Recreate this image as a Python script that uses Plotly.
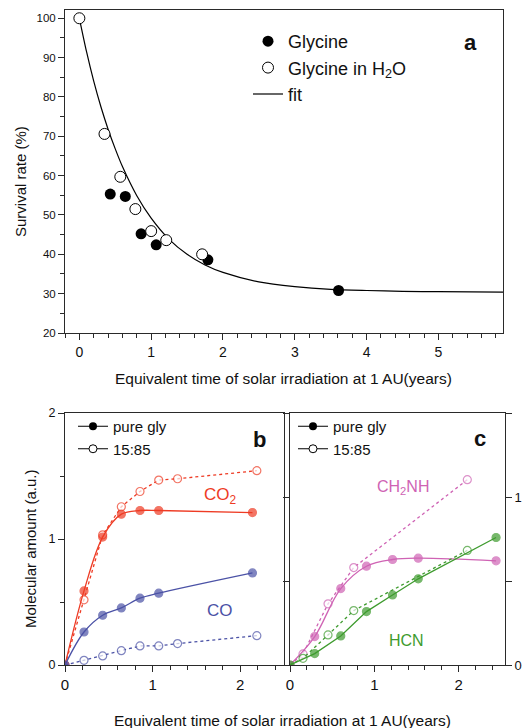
import plotly.graph_objects as go

# ---------------- data: panel a ----------------
gly_x = [0.43, 0.64, 0.86, 1.07, 1.79, 3.61]
gly_y = [55.3, 54.7, 45.2, 42.4, 38.6, 30.8]
glyw_x = [0.0, 0.35, 0.57, 0.78, 1.00, 1.21, 1.71]
glyw_y = [100.0, 70.6, 59.7, 51.5, 45.9, 43.6, 40.0]
fit_x = [0.0, 0.1, 0.2, 0.3, 0.4, 0.5, 0.6, 0.8, 1.0, 1.25, 1.5, 1.75, 2.0, 2.5, 3.0, 3.5, 4.0, 4.5, 5.0, 5.9]
fit_y = [100.0, 91.5, 84.0, 77.5, 71.8, 66.8, 62.3, 54.9, 49.2, 43.8, 40.0, 37.3, 35.4, 33.0, 31.8, 31.1, 30.8, 30.6, 30.5, 30.4]

# ---------------- data: panel b ----------------
co2_pure_x = [0.0, 0.217, 0.43, 0.643, 0.856, 1.07, 2.14]
co2_pure_y = [0.0, 0.588, 1.015, 1.197, 1.226, 1.226, 1.21]
co2_mix_x = [0.0, 0.217, 0.43, 0.643, 0.856, 1.07, 1.285, 2.19]
co2_mix_y = [0.0, 0.517, 1.033, 1.256, 1.377, 1.468, 1.478, 1.542]
co_pure_x = [0.0, 0.217, 0.43, 0.643, 0.856, 1.07, 2.14]
co_pure_y = [0.0, 0.262, 0.395, 0.453, 0.530, 0.570, 0.731]
co_mix_x = [0.0, 0.217, 0.43, 0.643, 0.856, 1.07, 1.285, 2.19]
co_mix_y = [0.0, 0.037, 0.072, 0.114, 0.151, 0.151, 0.170, 0.233]

# ---------------- data: panel c ----------------
ch2nh_pure_x = [0.0, 0.293, 0.602, 0.907, 1.216, 1.521, 2.444]
ch2nh_pure_y = [0.0, 0.169, 0.455, 0.588, 0.628, 0.636, 0.620]
ch2nh_mix_x = [0.0, 0.154, 0.451, 0.756, 2.103]
ch2nh_mix_y = [0.0, 0.066, 0.364, 0.580, 1.103]
hcn_pure_x = [0.0, 0.293, 0.602, 0.907, 1.216, 1.521, 2.444]
hcn_pure_y = [0.0, 0.068, 0.173, 0.318, 0.417, 0.513, 0.759]
hcn_mix_x = [0.0, 0.154, 0.451, 0.756, 2.103]
hcn_mix_y = [0.0, 0.040, 0.179, 0.324, 0.682]

x_title = "Equivalent time of solar irradiation at 1 AU(years)"

# ---------------- styling ----------------
FONT = "Arial, Liberation Sans, sans-serif"
AX = "#2a2a2a"
RED = "#EE3B24"
BLUE = "#4B52A6"
MAG = "#CF63B4"
GRN = "#3E9B2E"
W, H = 525, 728


def px(x):
    return x / W


def py(y):
    return 1 - y / H


fig = go.Figure()

# panel a
fig.add_trace(go.Scatter(x=fit_x, y=fit_y, mode="lines", name="fit",
                         line=dict(color="black", width=1.2, shape="spline", smoothing=0.8),
                         xaxis="x", yaxis="y", legend="legend", legendrank=3))
fig.add_trace(go.Scatter(x=gly_x, y=gly_y, mode="markers", name="Glycine",
                         marker=dict(symbol="circle", size=11, color="black"),
                         xaxis="x", yaxis="y", legend="legend", legendrank=1))
fig.add_trace(go.Scatter(x=glyw_x, y=glyw_y, mode="markers", name="Glycine in H<sub>2</sub>O",
                         marker=dict(symbol="circle", size=11, color="white",
                                     line=dict(color="black", width=1)),
                         xaxis="x", yaxis="y", legend="legend", legendrank=2))


def series(x, y, color, filled, dash, shape, ax):
    n = len(x)
    sizes = [8] * n
    if not filled:
        sizes[0] = 0
    return go.Scatter(
        x=x, y=y, mode="lines+markers", showlegend=False,
        line=dict(color=color, width=1.3, dash=dash, shape=shape),
        marker=dict(symbol="circle", size=sizes,
                    color=color if filled else "white",
                    line=dict(color=color, width=1.2)),
        xaxis="x" + ax, yaxis="y" + ax)


# panel b
fig.add_trace(series(co2_mix_x, co2_mix_y, RED, False, "dot", "linear", "2"))
fig.add_trace(series(co2_pure_x, co2_pure_y, RED, True, "solid", "spline", "2"))
fig.add_trace(series(co_mix_x, co_mix_y, BLUE, False, "dot", "linear", "2"))
fig.add_trace(series(co_pure_x, co_pure_y, BLUE, True, "solid", "spline", "2"))

# panel c
fig.add_trace(series(ch2nh_mix_x, ch2nh_mix_y, MAG, False, "dot", "linear", "3"))
fig.add_trace(series(ch2nh_pure_x, ch2nh_pure_y, MAG, True, "solid", "spline", "3"))
fig.add_trace(series(hcn_mix_x, hcn_mix_y, GRN, False, "dot", "linear", "3"))
fig.add_trace(series(hcn_pure_x, hcn_pure_y, GRN, True, "solid", "linear", "3"))

# legend entries for b and c
for lg, ax in (("legend2", "2"), ("legend3", "3")):
    fig.add_trace(go.Scatter(x=[None], y=[None], mode="lines+markers", name="pure gly",
                             line=dict(color="black", width=1),
                             marker=dict(size=8, color="black"),
                             xaxis="x" + ax, yaxis="y" + ax, legend=lg))
    fig.add_trace(go.Scatter(x=[None], y=[None], mode="lines+markers", name="15:85",
                             line=dict(color="black", width=1),
                             marker=dict(size=8, color="white", line=dict(color="black", width=1)),
                             xaxis="x" + ax, yaxis="y" + ax, legend=lg))

axis_common = dict(showline=True, linecolor=AX, linewidth=1,
                   showgrid=False, zeroline=False, ticks="outside", tickcolor=AX,
                   tickwidth=1, ticklen=6, color="#111", automargin=False)

fig.update_layout(
    width=W, height=H, margin=dict(l=0, r=0, t=0, b=0, autoexpand=False),
    paper_bgcolor="white", plot_bgcolor="white",
    font=dict(family=FONT, color="#111"),
    xaxis=dict(domain=[px(65), px(503)], anchor="y", range=[-0.2, 5.9], mirror=True,
               tick0=0, dtick=1, tickfont=dict(size=14),
               minor=dict(dtick=0.2, tick0=0, ticks="outside", ticklen=4, tickcolor=AX),
               **axis_common),
    yaxis=dict(domain=[py(333), py(10)], anchor="x", range=[20, 102.1], mirror=True,
               tick0=20, dtick=10, tickfont=dict(size=11.5),
               minor=dict(dtick=5, tick0=20, ticks="outside", ticklen=4, tickcolor=AX),
               **axis_common),
    xaxis2=dict(domain=[px(65), px(284)], anchor="y2", range=[0, 2.5], mirror=True,
                tick0=0, dtick=1, tickfont=dict(size=15),
                minor=dict(dtick=0.2, tick0=0, ticks="outside", ticklen=4, tickcolor=AX),
                **axis_common),
    yaxis2=dict(domain=[py(665), py(413)], anchor="x2", range=[0, 2], mirror=True,
                tick0=0, dtick=1, tickfont=dict(size=12.5),
                minor=dict(dtick=0.5, tick0=0, ticks="outside", ticklen=4, tickcolor=AX),
                **axis_common),
    xaxis3=dict(domain=[px(290), px(505)], anchor="y3", range=[0, 2.55], mirror=True,
                tick0=0, dtick=1, tickfont=dict(size=15),
                minor=dict(dtick=0.2, tick0=0, ticks="outside", ticklen=4, tickcolor=AX),
                **axis_common),
    yaxis3=dict(domain=[py(665), py(413)], anchor="x3", range=[0, 1.5], side="right",
                mirror="ticks", tick0=0, dtick=1, tickfont=dict(size=13),
                minor=dict(dtick=0.5, tick0=0, ticks="outside", ticklen=6, tickcolor=AX),
                **axis_common),
    legend=dict(x=px(248), y=py(23), xanchor="left", yanchor="top",
                bgcolor="rgba(0,0,0,0)", font=dict(size=18, family=FONT),
                itemwidth=30, tracegroupgap=0, traceorder="normal"),
    legend2=dict(x=px(73), y=py(410), xanchor="left", yanchor="top",
                 bgcolor="rgba(0,0,0,0)", font=dict(size=15, family=FONT),
                 itemwidth=30, tracegroupgap=0),
    legend3=dict(x=px(293), y=py(410), xanchor="left", yanchor="top",
                 bgcolor="rgba(0,0,0,0)", font=dict(size=15, family=FONT),
                 itemwidth=30, tracegroupgap=0),
)

ann = [
    dict(x=px(283), y=py(378), text=x_title, font=dict(size=15.5)),
    dict(x=px(282), y=py(720), text=x_title, font=dict(size=15.5)),
    dict(x=px(20), y=py(182), text="Survival rate (%)", font=dict(size=15), textangle=-90),
    dict(x=px(30), y=py(549), text="Molecular amount (a.u.)", font=dict(size=15), textangle=-90),
    dict(x=px(470), y=py(42), text="<b>a</b>", font=dict(size=22)),
    dict(x=px(259), y=py(439), text="<b>b</b>", font=dict(size=22)),
    dict(x=px(480), y=py(438), text="<b>c</b>", font=dict(size=22)),
    dict(x=px(220), y=py(496), text="CO<sub>2</sub>", font=dict(size=17, color=RED)),
    dict(x=px(220), y=py(610), text="CO", font=dict(size=17, color=BLUE)),
    dict(x=px(403), y=py(488), text="CH<sub>2</sub>NH", font=dict(size=16, color=MAG)),
    dict(x=px(406), y=py(640), text="HCN", font=dict(size=16, color=GRN)),
]
for a in ann:
    fig.add_annotation(xref="paper", yref="paper", showarrow=False,
                       xanchor="center", yanchor="middle", **a)

fig.write_html("out.html", config={"displayModeBar": False},
               post_script="document.body.style.margin='0';")
